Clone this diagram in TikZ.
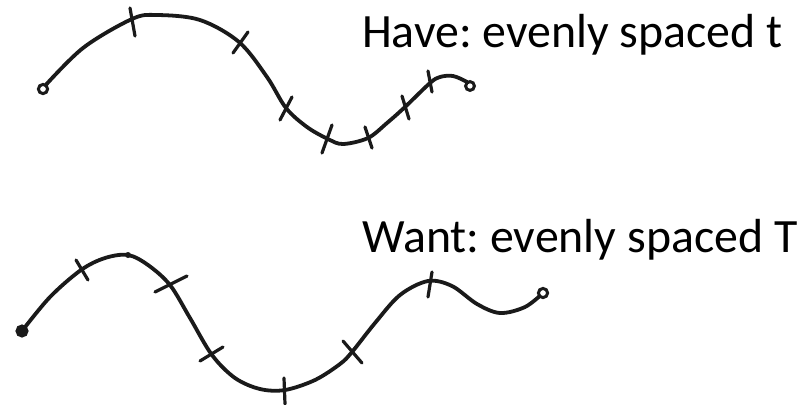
\documentclass[tikz,border=0pt]{standalone}
\usepackage{fontspec}
\setmainfont{Carlito}
\frenchspacing
\definecolor{ink}{HTML}{1A1A1A}
\tikzset{
  curve/.style={draw=ink, line width=3.8bp, line cap=round, line join=round},
  tickmark/.style={draw=ink, line width=3.2bp, line cap=round},
  endpt/.style={draw=ink, line width=3bp, fill=white},
  label/.style={anchor=base west, inner sep=0pt, font=\fontsize{48}{54}\selectfont, text=black}
}
\begin{document}
\begin{tikzpicture}[x=1bp,y=-1bp]
\useasboundingbox (0,0) rectangle (808,404);
% ---------- top curve (Have) ----------
\draw[curve] plot[smooth, tension=0.55] coordinates {
 (43,88) (83,48) (132,19) (157,15) (200,20) (239,42) (267,77) (286,108)
 (307,127) (328,139) (343,144) (368,138) (387,123) (405,107) (430,83)
 (440,77) (453,76) (467,82) (470,86)};
\draw[tickmark] (130,8) -- (135,36);
\draw[tickmark] (233,53) -- (248,32);
\draw[tickmark] (280,120) -- (292,97);
\draw[tickmark] (322,153) -- (332,125);
\draw[tickmark] (365,127) -- (372,148);
\draw[tickmark] (402,96) -- (409,119);
\draw[tickmark] (428,71) -- (432,92);
\draw[endpt] (43,89) circle (4.6bp);
\draw[endpt] (470,86) circle (4.4bp);
\node[label] (have) at (362,47) {Have: evenly spaced t};
% ---------- bottom curve (Want) ----------
\draw[curve] plot[smooth, tension=0.55] coordinates {
 (22,331) (50,297) (81,270) (105,258) (128,255) (148,265) (170,285)
 (190,318) (212,355) (235,378) (260,389) (285,390) (315,380) (340,364)
 (352,352) (375,323) (400,295) (428,281) (452,286) (477,304) (500,313)
 (525,307) (543,293)};
\fill[ink] (128,255) circle (3bp);
\draw[tickmark] (76,260) -- (88,280);
\draw[tickmark] (155,292) -- (187,276);
\draw[tickmark] (200,361) -- (223,347);
\draw[tickmark] (284,378) -- (285,404);
\draw[tickmark] (343,341) -- (362,363);
\draw[tickmark] (432,272) -- (428,297);
\draw[endpt, fill=ink] (22,331) circle (5bp);
\draw[endpt] (543,293) circle (4.6bp);
\node[label] (want) at (362,252) {Want: evenly spaced T};
\end{tikzpicture}
\end{document}
